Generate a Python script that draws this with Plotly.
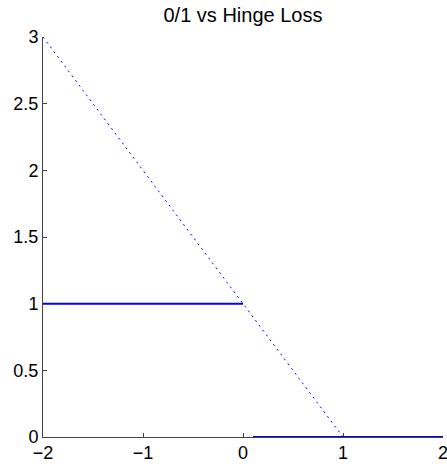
import plotly.graph_objects as go

# Data
zero_one_left_x = [-2, 0]
zero_one_left_y = [1, 1]
zero_one_right_x = [0.1, 2]
zero_one_right_y = [0, 0]
hinge_x = [-2, 1, 2]
hinge_y = [3, 0, 0]
x_ticks = [-2, -1, 0, 1, 2]
x_tick_labels = ["\u22122", "\u22121", "0", "1", "2"]
y_ticks = [0, 0.5, 1, 1.5, 2, 2.5, 3]
y_tick_labels = ["0", "0.5", "1", "1.5", "2", "2.5", "3"]
title_text = "0/1 vs Hinge Loss"

W, H = 447, 464
blue = "#0000ff"
fig = go.Figure()
fig.add_trace(go.Scatter(x=hinge_x, y=hinge_y, mode="lines",
                         line=dict(color=blue, width=1, dash="2px,4px"),
                         showlegend=False, hoverinfo="skip", cliponaxis=False))
fig.add_trace(go.Scatter(x=zero_one_left_x, y=zero_one_left_y, mode="lines",
                         line=dict(color=blue, width=2), showlegend=False, cliponaxis=False))
fig.add_trace(go.Scatter(x=zero_one_right_x, y=zero_one_right_y, mode="lines",
                         line=dict(color=blue, width=2), showlegend=False, cliponaxis=False))

family = "Liberation Sans, Arial, Helvetica"
font = dict(family=family, size=18, color="#000")
fig.update_layout(
    width=W, height=H,
    margin=dict(l=43, r=4, t=37, b=27, autoexpand=False),
    paper_bgcolor="white", plot_bgcolor="white",
    font=font,
    title=dict(text=title_text, x=243 / W, xanchor="center",
               y=1 - 14.5 / H, yanchor="middle", yref="container",
               font=dict(family=family, size=20, color="#000"), automargin=False),
    xaxis=dict(range=[-2, 2], tickvals=x_ticks, ticktext=x_tick_labels,
               showgrid=False, zeroline=False, showline=True, linecolor="#444",
               linewidth=1, ticks="inside", ticklen=4, tickcolor="#444",
               tickfont=font, automargin=False, layer="below traces",
               ticklabelstandoff=-1, ticklabeloverflow="allow"),
    yaxis=dict(range=[0, 3], tickvals=y_ticks, ticktext=y_tick_labels,
               showgrid=False, zeroline=False, showline=True, linecolor="#444",
               linewidth=1, ticks="inside", ticklen=4, tickcolor="#444",
               tickfont=font, automargin=False, layer="below traces",
               ticklabeloverflow="allow"),
)
fig.write_html("out.html", config={"displayModeBar": False},
               post_script="document.body.style.margin='0';document.body.style.overflow='hidden';")
